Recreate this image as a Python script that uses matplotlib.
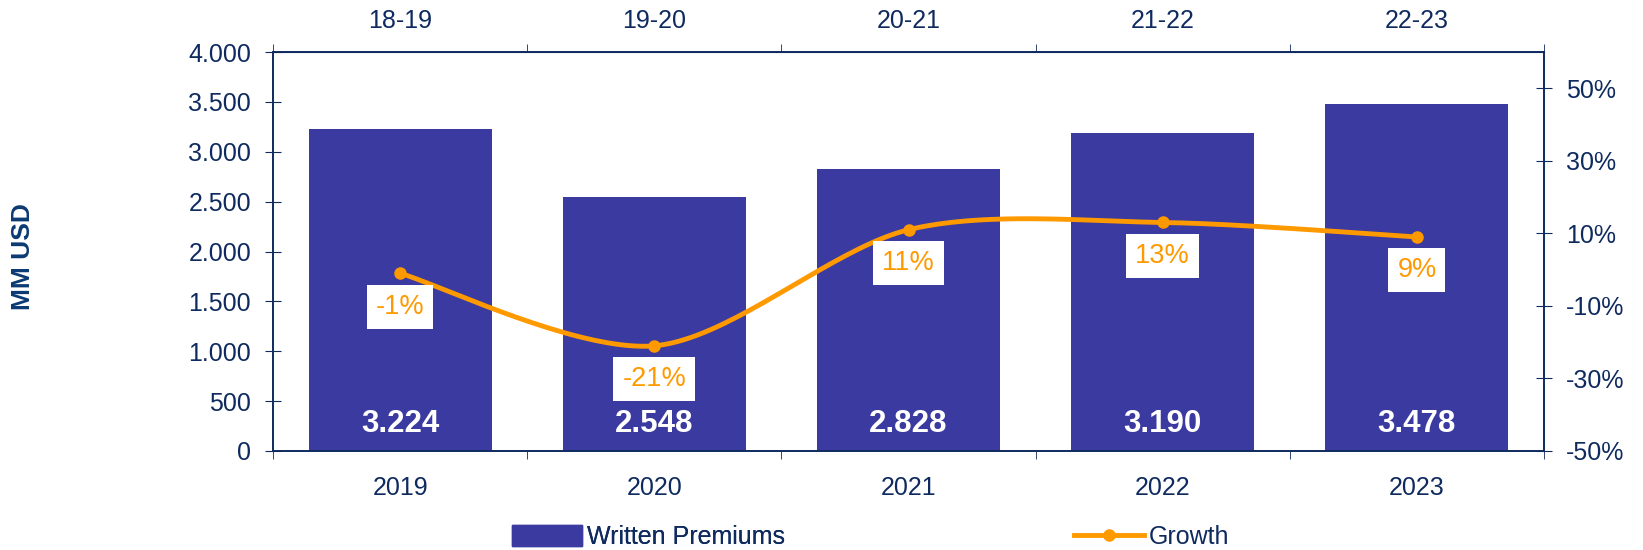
import numpy as np
import matplotlib
matplotlib.use("Agg")
import matplotlib.pyplot as plt
from matplotlib.patches import Patch
from matplotlib.lines import Line2D

years = ["2019", "2020", "2021", "2022", "2023"]
periods = ["18-19", "19-20", "20-21", "21-22", "22-23"]
premiums = [3224, 2548, 2828, 3190, 3478]
premium_labels = ["3.224", "2.548", "2.828", "3.190", "3.478"]
growth = [-1, -21, 11, 13, 9]
growth_labels = ["-1%", "-21%", "11%", "13%", "9%"]

NAVY = "#0E2A5E"
BAR = "#3A3AA0"
ORANGE = "#FF9900"
plt.rcParams["font.family"] = ["Liberation Sans", "DejaVu Sans"]

fig = plt.figure(figsize=(16.43, 5.5), dpi=100)
ax = fig.add_axes([273/1643, 1-451/550, (1544-273)/1643, (451-52)/550])
x = np.arange(len(years))
ax.bar(x, premiums, width=0.72, color=BAR, zorder=2)
ax.set_xlim(-0.5, 4.5)
ax.set_ylim(0, 4000)
ax.set_yticks(np.arange(0, 4001, 500))
ax.set_yticklabels([f"{v:,}".replace(",", ".") for v in range(0, 4001, 500)])
ax.set_xticks(x)
ax.set_xticklabels(years)
ax.set_xticks(np.arange(-0.5, 5, 1), minor=True)
ax.tick_params(axis="x", which="major", length=0, pad=18, labelsize=18, colors=NAVY)
ax.tick_params(axis="x", which="minor", length=6, direction="out", color=NAVY, top=True, bottom=True)
ax.tick_params(axis="y", length=11.5, direction="inout", pad=10, labelsize=18, colors=NAVY)
for s in ax.spines.values():
    s.set_color(NAVY)
    s.set_linewidth(1.2)

for xi, v, lab in zip(x, premiums, premium_labels):
    ax.text(xi, 270, lab, ha="center", va="center", color="white",
            fontsize=22.5, fontweight="bold", zorder=5)

sec = ax.secondary_xaxis("top")
sec.set_xticks(x)
sec.set_xticklabels(periods)
sec.tick_params(length=0, pad=14, labelsize=18, colors=NAVY)
sec.spines["top"].set_color(NAVY)

ax2 = ax.twinx()
ax2.set_ylim(-50, 60)
ax2.set_yticks(np.arange(-50, 51, 20))
ax2.set_yticklabels([f"{v}%" for v in range(-50, 51, 20)])
ax2.tick_params(axis="y", length=11.5, direction="inout", pad=10, labelsize=18, colors=NAVY)
for s in ax2.spines.values():
    s.set_color(NAVY)
    s.set_linewidth(1.2)

# Catmull-Rom smoothing of the line (Excel-style smoothed line)
px = np.array(x, dtype=float)
py = np.array(growth, dtype=float)
P = np.vstack([px, py]).T
Pext = np.vstack([P[0], P, P[-1]])
sx, sy = [], []
t = np.linspace(0, 1, 40)
for i in range(1, len(Pext) - 2):
    p0, p1, p2, p3 = Pext[i-1], Pext[i], Pext[i+1], Pext[i+2]
    m1 = (p2 - p0) / 2 * 0.9
    m2 = (p3 - p1) / 2 * 0.9
    h00 = 2*t**3 - 3*t**2 + 1
    h10 = t**3 - 2*t**2 + t
    h01 = -2*t**3 + 3*t**2
    h11 = t**3 - t**2
    seg = np.outer(h00, p1) + np.outer(h10, m1) + np.outer(h01, p2) + np.outer(h11, m2)
    sx.extend(seg[:, 0]); sy.extend(seg[:, 1])
ax2.plot(sx, sy, color=ORANGE, lw=3.5, zorder=3, solid_capstyle="round")
ax2.plot(px, py, "o", color=ORANGE, ms=8, zorder=4)
for xi, g, lab in zip(px, growth, growth_labels):
    ax2.annotate(lab, (xi, g), xytext=(0, -24), textcoords="offset points",
                 ha="center", va="center", fontsize=19.5, color=ORANGE, zorder=6,
                 bbox=dict(boxstyle="square,pad=0.33", fc="white", ec="none"))

fig.text(23/1643, 1-257/550, "MM USD", rotation=90, ha="center", va="center",
         fontsize=19, fontweight="bold", color="#0B3A72")

leg1 = fig.legend(handles=[Patch(color=BAR, label="Written Premiums")],
                  loc="center left", bbox_to_anchor=(512/1643, 1-537/550), frameon=False,
                  fontsize=18, labelcolor=NAVY, handlelength=2.8, handleheight=0.9,
                  handletextpad=0.2, borderaxespad=0, borderpad=0)
leg2 = fig.legend(handles=[Line2D([], [], color=ORANGE, lw=3.5, marker="o", ms=8, label="Growth")],
                  loc="center left", bbox_to_anchor=(1074/1643, 1-537/550), frameon=False,
                  fontsize=18, labelcolor=NAVY, handlelength=2.8, handletextpad=0.2,
                  borderaxespad=0, borderpad=0)
fig.add_artist(leg1)

fig.savefig("out.png", dpi=100)
